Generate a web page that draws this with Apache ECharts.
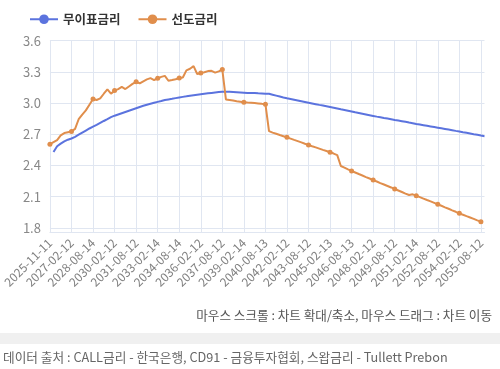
<!DOCTYPE html>
<html><head><meta charset="utf-8">
<script src="https://cdn.jsdelivr.net/npm/echarts@6/dist/echarts.min.js"></script>
<style>html,body{margin:0;padding:0;background:#fff}#c{width:500px;height:369px}</style>
</head><body><div id="c"></div>
<script>
const categories = [
"2025-11-11","2025-11-12",
"2026-02-12","2026-05-12","2026-08-12","2026-11-12",
"2027-02-12","2027-05-12","2027-08-12","2027-11-12",
"2028-02-14","2028-05-12","2028-08-14","2028-11-13",
"2029-02-12","2029-05-14","2029-08-13","2029-11-12",
"2030-02-12","2030-05-13","2030-08-12","2030-11-12",
"2031-02-12","2031-05-12","2031-08-12","2031-11-12",
"2032-02-12","2032-05-12","2032-08-12","2032-11-12",
"2033-02-14","2033-05-12","2033-08-12","2033-11-14",
"2034-02-13","2034-05-12","2034-08-14","2034-11-13",
"2035-02-12","2035-05-14","2035-08-13","2035-11-12",
"2036-02-12","2036-05-12","2036-08-12","2036-11-12",
"2037-02-12","2037-05-12","2037-08-12","2037-11-12",
"2038-02-12","2038-05-12","2038-08-12","2038-11-12",
"2039-02-14","2039-05-12","2039-08-12","2039-11-14",
"2040-02-13","2040-05-14","2040-08-13","2040-11-12",
"2041-02-12","2041-05-13","2041-08-12","2041-11-12",
"2042-02-12","2042-05-12","2042-08-12","2042-11-12",
"2043-02-12","2043-05-12","2043-08-12","2043-11-12",
"2044-02-12","2044-05-12","2044-08-12","2044-11-14",
"2045-02-13","2045-05-12","2045-08-14","2045-11-13",
"2046-02-12","2046-05-14","2046-08-13","2046-11-12",
"2047-02-12","2047-05-13","2047-08-12","2047-11-12",
"2048-02-12","2048-05-12","2048-08-12","2048-11-12",
"2049-02-12","2049-05-12","2049-08-12","2049-11-12",
"2050-02-14","2050-05-12","2050-08-12","2050-11-14",
"2051-02-14","2051-05-12","2051-08-14","2051-11-13",
"2052-02-12","2052-05-13","2052-08-12","2052-11-12",
"2053-02-12","2053-05-12","2053-08-12","2053-11-12",
"2054-02-12","2054-05-12","2054-08-12","2054-11-12",
"2055-02-12","2055-05-12","2055-08-12","2055-11-12"
];

const zeroRate = [null,
2.53,2.585,2.61,2.632,2.648,2.66,2.676,2.696,2.716,2.736,
2.756,2.773,2.79,2.809,2.828,2.846,2.865,2.879,2.891,2.903,
2.915,2.927,2.939,2.951,2.963,2.975,2.985,2.994,3.003,3.012,
3.02,3.029,3.035,3.041,3.048,3.054,3.06,3.065,3.071,3.076,
3.081,3.086,3.09,3.094,3.098,3.102,3.106,3.11,3.109,3.108,
3.106,3.104,3.102,3.1,3.098,3.097,3.096,3.094,3.093,3.091,
3.09,3.081,3.072,3.063,3.054,3.046,3.039,3.032,3.025,3.018,
3.011,3.004,2.997,2.99,2.983,2.977,2.97,2.963,2.956,2.949,
2.941,2.934,2.927,2.92,2.912,2.905,2.898,2.891,2.884,2.877,
2.87,2.864,2.857,2.851,2.845,2.838,2.832,2.826,2.82,2.813,
2.807,2.8,2.794,2.788,2.782,2.776,2.77,2.764,2.758,2.752,
2.746,2.74,2.733,2.727,2.72,2.714,2.708,2.701,2.695,2.688,
2.682];

const forwardRate = [
2.605,2.625,2.645,2.69,2.712,2.72,2.728,2.752,2.845,2.89,
2.93,2.985,3.04,3.03,3.045,3.09,3.133,3.09,3.12,3.135,
3.155,3.135,3.16,3.185,3.205,3.19,3.21,3.228,3.24,3.222,
3.238,3.252,3.262,3.215,3.222,3.23,3.242,3.246,3.315,3.33,
3.355,3.28,3.29,3.296,3.308,3.31,3.293,3.305,3.322,3.035,
3.03,3.025,3.018,3.013,3.008,3.005,3.003,3.0,2.997,2.993,
2.99,2.73,2.716,2.705,2.693,2.682,2.671,2.659,2.646,2.634,
2.622,2.609,2.597,2.585,2.574,2.562,2.55,2.539,2.527,2.515,
2.5,2.395,2.38,2.363,2.347,2.333,2.318,2.304,2.289,2.275,
2.26,2.246,2.231,2.217,2.203,2.189,2.174,2.16,2.145,2.13,
2.116,2.123,2.11,2.096,2.082,2.068,2.055,2.041,2.027,2.013,
1.998,1.984,1.969,1.955,1.94,1.927,1.913,1.9,1.887,1.873,
1.86,null];

const seriesNames = ['무이표금리', '선도금리'];
const noteText = '마우스 스크롤 : 차트 확대/축소, 마우스 드래그 : 차트 이동';
const sourceText = '데이터 출처 : CALL금리 - 한국은행, CD91 - 금융투자협회, 스왑금리 - Tullett Prebon';

const FONT = '"Noto Sans CJK KR", "Noto Sans", sans-serif';
const chart = echarts.init(document.getElementById('c'), null, {renderer: 'canvas'});
chart.setOption({
  animation: false,
  color: ['#5b73de', '#e08e4c'],
  textStyle: {fontFamily: FONT},
  legend: {
    left: 24, top: 8, itemWidth: 28, itemHeight: 12, itemGap: 17,
    textStyle: {fontSize: 12.5, fontWeight: 'bold', color: '#333', fontFamily: FONT},
    data: seriesNames
  },
  grid: {left: 43, right: 15.5, top: 40.7, bottom: 136.3, containLabel: false},
  xAxis: {
    type: 'category', boundaryGap: false, data: categories,
    axisLine: {lineStyle: {color: '#E0E6F1'}},
    axisTick: {show: false},
    axisLabel: {interval: 5, rotate: 45, fontSize: 12, color: '#808080', margin: 8, fontFamily: FONT},
    splitLine: {show: true, lineStyle: {color: '#E0E6F1'}}
  },
  yAxis: {
    type: 'value', min: 1.754, max: 3.6, splitNumber: 6,
    axisLine: {show: false}, axisTick: {show: false},
    axisLabel: {fontSize: 13, color: '#888', margin: 9, showMinLabel: false, fontFamily: FONT,
      formatter: v => v.toFixed(1)},
    splitLine: {lineStyle: {color: '#E0E6F1'}}
  },
  series: [
    {name: seriesNames[0], type: 'line', data: zeroRate, symbol: 'circle', symbolSize: 8,
     showSymbol: false, lineStyle: {width: 2}},
    {name: seriesNames[1], type: 'line', data: forwardRate, symbol: 'circle', symbolSize: 5,
     lineStyle: {width: 2}}
  ],
  graphic: [
    {type: 'text', right: 8, top: 309, style: {text: noteText, fill: '#555', fontSize: 12.6, fontFamily: FONT}},
    {type: 'rect', left: 0, top: 333, shape: {width: 500, height: 11}, style: {fill: '#f0f0f0'}},
    {type: 'text', left: 3, top: 351, style: {text: sourceText, fill: '#666', fontSize: 12.7, fontFamily: FONT}}
  ]
});
</script>
</body></html>
